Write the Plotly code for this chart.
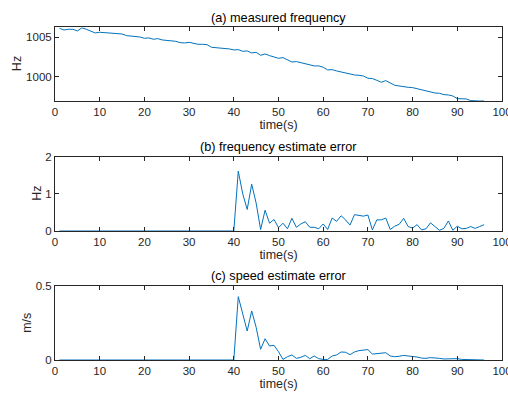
import plotly.graph_objects as go

t = list(range(1, 97))

freq_measured = [
    1006.14, 1005.93, 1006.02, 1006.02, 1005.81, 1006.20, 1006.02, 1005.77, 1005.55, 1005.64,
    1005.59, 1005.55, 1005.51, 1005.42, 1005.42, 1005.21, 1005.17, 1005.17, 1005.04, 1004.87,
    1004.92, 1004.75, 1004.83, 1004.66, 1004.62, 1004.62, 1004.49, 1004.32, 1004.28, 1004.36,
    1004.19, 1004.11, 1004.11, 1004.07, 1003.73, 1003.69, 1003.64, 1003.60, 1003.52, 1003.39,
    1003.43, 1003.22, 1003.26, 1003.01, 1003.09, 1002.71, 1002.88, 1002.67, 1002.54, 1002.33,
    1002.42, 1002.12, 1001.86, 1001.91, 1001.78, 1001.65, 1001.53, 1001.36, 1001.36, 1001.19,
    1000.85, 1000.89, 1000.72, 1000.59, 1000.55, 1000.34, 1000.21, 1000.17, 1000.08, 999.79,
    999.75, 999.53, 999.28, 999.49, 999.15, 998.90, 998.81, 998.69, 998.64, 998.60,
    998.47, 998.26, 998.22, 998.05, 997.92, 997.88, 997.71, 997.67, 997.54, 997.20,
    997.16, 997.16, 996.95, 996.90, 996.90, 996.90,
]

freq_error = [0.0] * 40 + [
    1.61, 1.00, 0.58, 1.26, 0.75, 0.04, 0.56, 0.21, 0.31, 0.09,
    0.21, 0.06, 0.34, 0.10, 0.19, 0.25, 0.10, 0.10, 0.06, 0.19,
    0.04, 0.35, 0.26, 0.41, 0.30, 0.16, 0.44, 0.41, 0.40, 0.43,
    0.03, 0.30, 0.30, 0.35, 0.04, 0.13, 0.18, 0.34, 0.12, 0.08,
    0.17, 0.03, 0.06, 0.22, 0.12, 0.02, 0.07, 0.27, 0.02, 0.13,
    0.06, 0.07, 0.12, 0.07, 0.12, 0.17,
]

speed_error = [0.0] * 40 + [
    0.426, 0.31, 0.195, 0.33, 0.22, 0.072, 0.143, 0.094, 0.099, 0.056,
    0.004, 0.022, 0.034, 0.011, 0.018, 0.031, 0.009, 0.027, 0.009, 0.004,
    0.004, 0.027, 0.034, 0.054, 0.052, 0.036, 0.054, 0.063, 0.065, 0.070,
    0.040, 0.043, 0.045, 0.049, 0.027, 0.022, 0.025, 0.031, 0.027, 0.025,
    0.020, 0.013, 0.011, 0.016, 0.016, 0.011, 0.007, 0.009, 0.007, 0.009,
    0.004, 0.004, 0.004, 0.002, 0.002, 0.0,
]

titles = ["(a) measured frequency", "(b) frequency estimate error", "(c) speed estimate error"]
ylabels = ["Hz", "Hz", "m/s"]
x_ticks = [0, 10, 20, 30, 40, 50, 60, 70, 80, 90, 100]
y_ticks = [[1000, 1005], [0, 1, 2], [0, 0.5]]
y_ranges = [[996.9, 1006.27], [0, 2], [0, 0.5]]
series = [freq_measured, freq_error, speed_error]

W, H = 508, 396
LINE = "#0072BD"
AX = "#262626"
FONT = "Liberation Sans, Arial, sans-serif"

x_dom = [55 / W, 502 / W]
# (top px, bottom px) of each axes box
boxes = [(27.3, 101), (156.7, 231), (285.7, 360)]
ylab_x = [17, 37, 27]

fig = go.Figure()
layout = dict(
    width=W, height=H,
    margin=dict(l=0, r=0, t=0, b=0, autoexpand=False),
    paper_bgcolor="white", plot_bgcolor="white",
    showlegend=False,
    font=dict(family=FONT, size=11.5, color=AX),
    annotations=[],
)

for i in range(3):
    n = "" if i == 0 else str(i + 1)
    fig.add_trace(go.Scatter(
        x=t, y=series[i], mode="lines",
        line=dict(color=LINE, width=1),
        xaxis="x" + n, yaxis="y" + n, hoverinfo="skip",
    ))
    top, bot = boxes[i]
    ydom = [1 - bot / H, 1 - top / H]
    layout["xaxis" + n] = dict(
        domain=x_dom, anchor="y" + n, range=[0, 100], automargin=False,
        tickvals=x_ticks, ticks="inside", ticklen=4, tickwidth=1, tickcolor=AX,
        showline=True, linecolor=AX, linewidth=1, mirror="ticks",
        showgrid=False, zeroline=False, ticklabeloverflow="allow",
        tickfont=dict(family=FONT, size=11.5, color=AX),
        title=dict(text="time(s)", font=dict(family=FONT, size=12.5, color=AX), standoff=2),
    )
    layout["yaxis" + n] = dict(
        domain=ydom, anchor="x" + n, range=y_ranges[i], automargin=False,
        tickvals=y_ticks[i], ticks="inside", ticklen=4, tickwidth=1, tickcolor=AX,
        showline=True, linecolor=AX, linewidth=1, mirror="ticks",
        showgrid=False, zeroline=False,
        tickfont=dict(family=FONT, size=11.5, color=AX),
    )
    layout["annotations"].append(dict(
        text=titles[i], xref="paper", yref="paper",
        x=(x_dom[0] + x_dom[1]) / 2, y=1 - (top - 9.3) / H,
        xanchor="center", yanchor="middle", showarrow=False,
        font=dict(family=FONT, size=12.7, color="black"),
    ))
    layout["annotations"].append(dict(
        text=ylabels[i], xref="paper", yref="paper",
        x=ylab_x[i] / W, y=1 - (top + bot) / 2 / H,
        xanchor="center", yanchor="middle", showarrow=False, textangle=-90,
        font=dict(family=FONT, size=12.5, color=AX),
    ))

fig.update_layout(**layout)
fig.write_html("out.html")
